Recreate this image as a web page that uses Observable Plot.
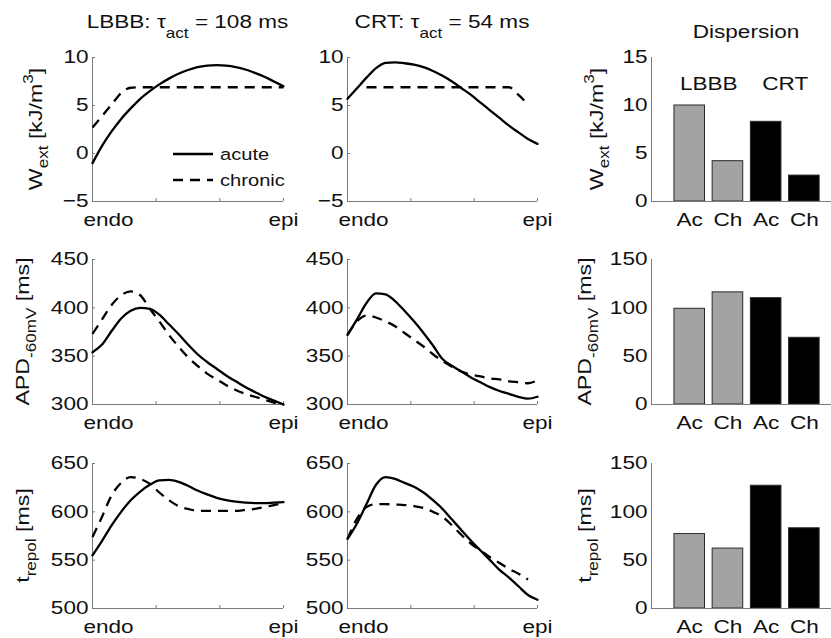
<!DOCTYPE html>
<html><head><meta charset="utf-8">
<script src="https://cdn.jsdelivr.net/npm/d3@7"></script>
<script src="https://cdn.jsdelivr.net/npm/@observablehq/plot@0.6"></script>
<style>
html,body{margin:0;padding:0;background:#fff;overflow:hidden}
#fig{position:relative;width:831px;height:638px;background:#fff}
</style></head><body><div id="fig"></div>
<script>
// ---------- data ----------
const pos = [0,0.05,0.1,0.15,0.2,0.25,0.3,0.35,0.4,0.45,0.5,0.55,0.6,0.65,0.7,0.75,0.8,0.85,0.9,0.95,1];

const lbbbWextAcute   = [-1.0,0.8,2.3,3.6,4.7,5.7,6.5,7.2,7.8,8.3,8.7,9.0,9.15,9.2,9.15,9.0,8.75,8.4,8.0,7.5,7.0];
const lbbbWextChronic = [2.7,3.9,5.1,6.3,6.85,6.9,6.9,6.9,6.9,6.9,6.9,6.9,6.9,6.9,6.9,6.9,6.9,6.9,6.9,6.9,6.9];
const crtWextAcute    = [5.7,6.8,7.9,8.9,9.45,9.5,9.4,9.25,9.0,8.6,8.1,7.5,6.8,6.1,5.3,4.5,3.7,2.9,2.2,1.5,1.0];
const crtWextChronic  = [null,null,6.9,6.9,6.9,6.9,6.9,6.9,6.9,6.9,6.9,6.9,6.9,6.9,6.9,6.9,6.9,6.9,6.1,5.1,null];

const lbbbApdAcute    = [354,362,376,389,397,400,399,393,383,373,362,352,344,337,330,324,318,313,308,304,300];
const lbbbApdChronic  = [373,388,403,413,417,413,399,386,372,360,349,340,332,326,320,315,311,308,305,302,300];
const crtApdAcute     = [372,388,405,415,414,407,397,386,374,361,347,340,334,328,323,318,314,311,308,306,308];
const crtApdChronic   = [372,386,392,390,386,381,374,367,360,352,345,339,334,331,329,327,326,324,323,322,325];

const lbbbTrepAcute   = [555,570,586,600,612,621,628,632.5,633,631,627,622,618,614.5,612,610.5,609.5,609,609,609.5,610];
const lbbbTrepChronic = [574,595,617,630,636,634,629,620,612,606,603,601,601,601,601,601,602,603,605,607,609];
const crtTrepAcute    = [572,588,608,628,636,634,630,626,620,612,603,592,581,570,560,550,540,532,523,514,509];
const crtTrepChronic  = [572,593,605,608,608,607.5,607,606,604,600,595,586,576,567,560,553,547,541,536,530,null];

const barLabels = ["Ac","Ch","Ac","Ch"];
const barGroups = ["LBBB","LBBB","CRT","CRT"];
const groupNames = ["LBBB","CRT"];
const dispWext = [10.0,4.2,8.3,2.7];
const dispApd  = [99,116,110,69];
const dispTrep = [77,62,127,83];

const wextTicks = [-5,0,5,10];
const apdTicks  = [300,350,400,450];
const trepTicks = [500,550,600,650];
const barWextTicks = [0,5,10,15];
const barMsTicks   = [0,50,100,150];
const posTicks = [0,1/3,2/3,1];

// ---------- style ----------
const FONT = '"Liberation Sans", Arial, Helvetica, sans-serif';
const S = 1.22;           // horizontal text widening
const AX = "#7a7a7a";
const TXT = "#111";
const fig = document.getElementById("fig");

function stretchText(svg, s) {
  svg.querySelectorAll("text").forEach(t => {
    const tr = t.getAttribute("transform");
    if (tr) t.setAttribute("transform", tr + ` scale(${s},1)`);
    else {
      const x = parseFloat(t.getAttribute("x")) || 0;
      t.removeAttribute("x");
      t.setAttribute("transform", `translate(${x},0) scale(${s},1)`);
    }
  });
}

function place(svg, left, top) {
  svg.style.position = "absolute";
  svg.style.left = left + "px";
  svg.style.top = top + "px";
  svg.style.maxWidth = "none";
  fig.appendChild(svg);
}

const baseStyle = {fontFamily: FONT, fontSize: "18.5px", background: "transparent", overflow: "visible", color: TXT};

function linePanel(acute, chronic, yDomain, yTicks, x0, x1, y0, y1) {
  const mL = 60, mR = 20, mT = 12, mB = 36;
  const data = pos.map((p, i) => ({p, acute: acute[i], chronic: chronic[i]}));
  const svg = Plot.plot({
    width: x1 - x0 + mL + mR, height: y1 - y0 + mT + mB,
    marginLeft: mL, marginRight: mR, marginTop: mT, marginBottom: mB,
    x: {domain: [0, 1], axis: null, label: null},
    y: {domain: yDomain, axis: null, label: null},
    style: baseStyle,
    marks: [
      Plot.axisY(yTicks, {tickSize: 0, tickPadding: 4, label: null}),
      Plot.axisY(yTicks, {tickSize: 3, dx: 3, tickFormat: () => "", color: AX, label: null}),
      Plot.axisX([posTicks[0]], {tickSize: 0, tickPadding: 11, dx: 16, tickFormat: () => "endo", label: null}),
      Plot.axisX([posTicks[3]], {tickSize: 0, tickPadding: 11, tickFormat: () => "epi", label: null}),
      Plot.axisX(posTicks, {tickSize: 3, dy: -3, tickFormat: () => "", color: AX, label: null}),
      Plot.ruleX([0], {stroke: AX, strokeWidth: 1}),
      Plot.ruleY([yDomain[0]], {stroke: AX, strokeWidth: 1}),
      Plot.line(data, {x: "p", y: "chronic", stroke: "#000", strokeWidth: 2.3, strokeDasharray: "10,7", strokeLinecap: "butt", curve: "monotone-x"}),
      Plot.line(data, {x: "p", y: "acute", stroke: "#000", strokeWidth: 2.3, curve: "monotone-x"})
    ]
  });
  stretchText(svg, S);
  place(svg, x0 - mL, y0 - mT);
}

function barPanel(values, yDomain, yTicks, x0, x1, y0, y1, withGroups) {
  const mL = 60, mR = 0, mT = 12, mB = 36;
  const bars = values.map((v, i) => ({i: i + 1, v, g: barGroups[i], lab: barLabels[i]}));
  const marks = [
    Plot.rect(bars, {x1: d => d.i - 0.4, x2: d => d.i + 0.4, y1: () => yDomain[0], y2: "v", fill: "g", stroke: "#2a2a2a", strokeWidth: 1}),
    Plot.axisY(yTicks, {tickSize: 0, tickPadding: 4, label: null}),
    Plot.axisX(bars.map(d => d.i), {tickSize: 0, tickPadding: 11, tickFormat: i => barLabels[i - 1], label: null}),
    Plot.ruleX([0], {stroke: AX, strokeWidth: 1}),
    Plot.ruleY([yDomain[0]], {stroke: AX, strokeWidth: 1})
  ];
  if (withGroups) {
    marks.push(Plot.text(groupNames, {x: (d, i) => 1.5 + 2 * i, y: () => 12.25, text: d => d, fill: TXT}));
  }
  const svg = Plot.plot({
    width: x1 - x0 + mL + mR, height: y1 - y0 + mT + mB,
    marginLeft: mL, marginRight: mR, marginTop: mT, marginBottom: mB,
    x: {domain: [0, 4.71], axis: null, label: null},
    y: {domain: yDomain, axis: null, label: null},
    color: {domain: groupNames, range: ["#a3a3a3", "#000000"]},
    style: baseStyle,
    marks
  });
  stretchText(svg, S);
  place(svg, x0 - mL, y0 - mT);
}

// ---------- layout (screen px) ----------
const C1 = [92, 283], C2 = [347, 537], C3 = [651, 831];
const R1 = [57, 201], R2 = [259, 404], R3 = [463, 608];

linePanel(lbbbWextAcute, lbbbWextChronic, [-5, 10], wextTicks, C1[0], C1[1], R1[0], R1[1]);
linePanel(crtWextAcute, crtWextChronic, [-5, 10], wextTicks, C2[0], C2[1], R1[0], R1[1]);
barPanel(dispWext, [0, 15], barWextTicks, C3[0], C3[1], R1[0], R1[1], true);

linePanel(lbbbApdAcute, lbbbApdChronic, [300, 450], apdTicks, C1[0], C1[1], R2[0], R2[1]);
linePanel(crtApdAcute, crtApdChronic, [300, 450], apdTicks, C2[0], C2[1], R2[0], R2[1]);
barPanel(dispApd, [0, 150], barMsTicks, C3[0], C3[1], R2[0], R2[1], false);

linePanel(lbbbTrepAcute, lbbbTrepChronic, [500, 650], trepTicks, C1[0], C1[1], R3[0], R3[1]);
linePanel(crtTrepAcute, crtTrepChronic, [500, 650], trepTicks, C2[0], C2[1], R3[0], R3[1]);
barPanel(dispTrep, [0, 150], barMsTicks, C3[0], C3[1], R3[0], R3[1], false);

// ---------- annotations: titles, axis labels, legend ----------
const ov = d3.select(fig).append("svg")
  .attr("width", 831).attr("height", 638)
  .style("position", "absolute").style("left", "0px").style("top", "0px")
  .style("overflow", "visible").style("pointer-events", "none")
  .attr("font-family", FONT).attr("fill", TXT);

function label(x, y, rotate, parts, size, anchor = "middle") {
  const t = ov.append("text")
    .attr("transform", `translate(${x},${y})${rotate ? ` rotate(${rotate})` : ""} scale(${S},1)`)
    .attr("text-anchor", anchor).attr("font-size", size);
  parts.forEach(([str, opts]) => {
    const ts = t.append("tspan").text(str);
    if (opts) Object.entries(opts).forEach(([k, v]) => ts.attr(k, v));
  });
}

const mid = r => (r[0] + r[1]) / 2;
label(mid(C1), 28, 0, [["LBBB: τ"], ["act", {"font-size": 14, dy: 10}], [" = 108 ms", {dy: -10}]], 18.5);
label(mid(C2), 28, 0, [["CRT: τ"], ["act", {"font-size": 14, dy: 10}], [" = 54 ms", {dy: -10}]], 18.5);
label(746, 38, 0, [["Dispersion"]], 18.5);

const wextLabel = [["W"], ["ext", {"font-size": 14, dy: 6}], [" [kJ/m", {dy: -6}], ["3", {"font-size": 14, dy: -9}], ["]", {dy: 9}]];
const apdLabel  = [["APD"], ["-60mV", {"font-size": 14, dy: 7}], [" [ms]", {dy: -7}]];
const trepLabel = [["t"], ["repol", {"font-size": 14, dy: 7}], [" [ms]", {dy: -7}]];

label(42, mid(R1), -90, wextLabel, 19);
label(29, mid(R2), -90, apdLabel, 19);
label(29, mid(R3), -90, trepLabel, 19);
label(603, mid(R1), -90, wextLabel, 19);
label(591, mid(R2), -90, apdLabel, 19);
label(591, mid(R3), -90, trepLabel, 19);

// legend
const legendItems = [["acute", null, 154], ["chronic", "10,7", 180]];
legendItems.forEach(([name, dash, y]) => {
  const ln = ov.append("line").attr("x1", 173).attr("x2", 213).attr("y1", y).attr("y2", y)
    .attr("stroke", "#000").attr("stroke-width", 2.3);
  if (dash) ln.attr("stroke-dasharray", dash);
  label(220, y + 5.5, 0, [[name]], 16.5, "start");
});
</script></body></html>
